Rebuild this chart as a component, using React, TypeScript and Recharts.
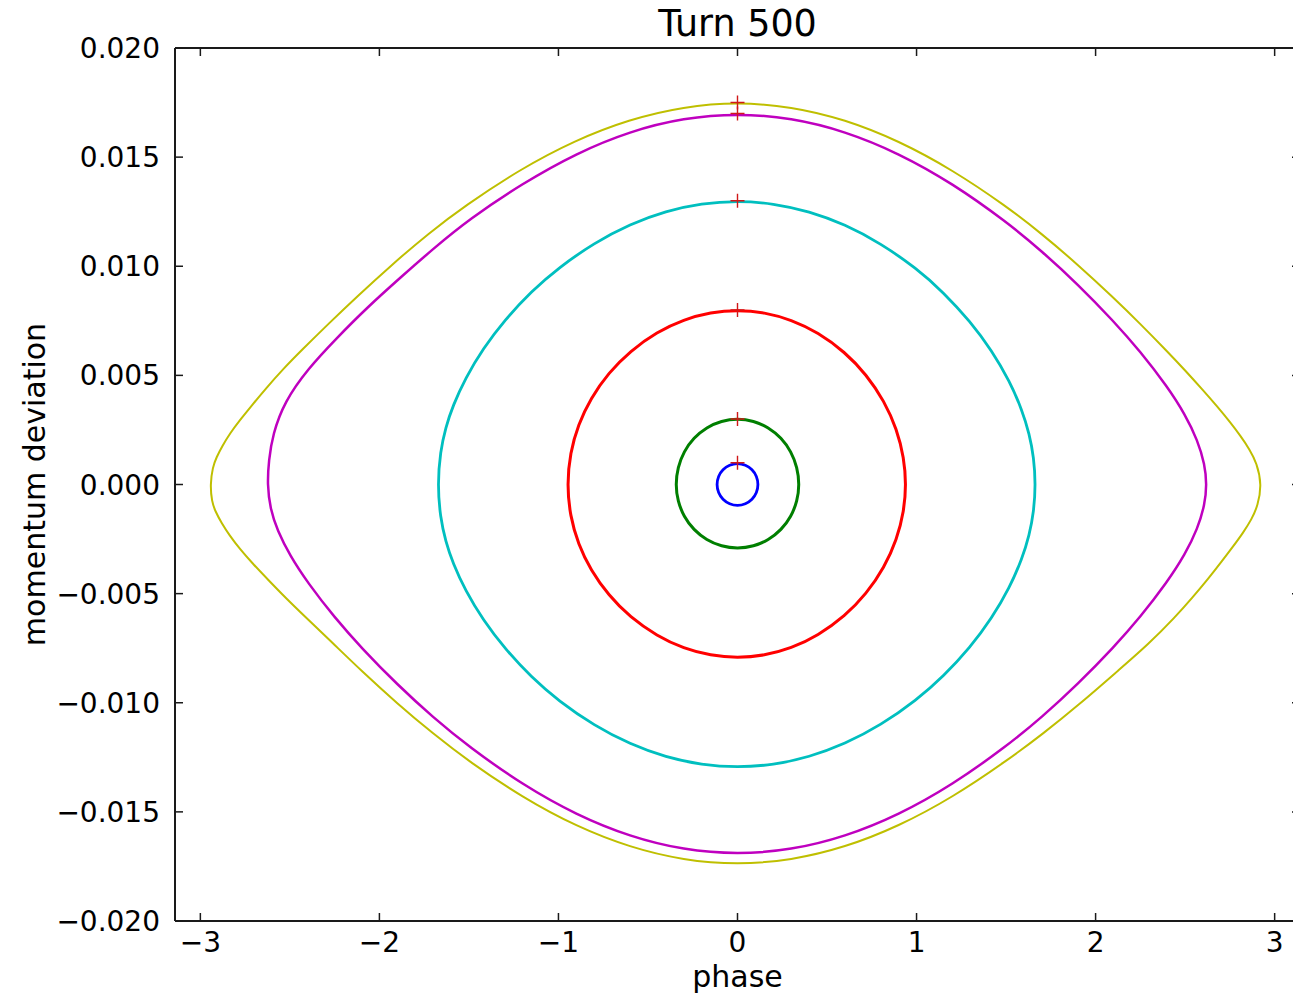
import React from 'react';
import { ComposedChart, Line, XAxis, YAxis } from 'recharts';

const titleText = 'Turn 500';
const xLabelText = 'phase';
const yLabelText = 'momentum deviation';

const xTicks = [-3, -2, -1, 0, 1, 2, 3];
const yTicks = [-0.02, -0.015, -0.01, -0.005, 0, 0.005, 0.01, 0.015, 0.02];

// Orbits (phase, momentum deviation), going round each loop
const bluePhase = [0.117, 0.108, 0.083, 0.045, 0, -0.045, -0.083, -0.108, -0.117, -0.108, -0.083, -0.045, 0, 0.045, 0.083, 0.108];
const blueDp = [0, 0.00038, 0.00069, 0.0009, 0.00098, 0.0009, 0.00069, 0.00038, 0, -0.00038, -0.00069, -0.0009, -0.00098, -0.0009, -0.00069, -0.00038];

const greenPhase = [0.346, 0.334, 0.3, 0.245, 0.173, 0.09, 0, -0.09, -0.173, -0.245, -0.3, -0.334, -0.346, -0.334, -0.3, -0.245, -0.173, -0.09, 0, 0.09, 0.173, 0.245, 0.3, 0.334];
const greenDp = [0, 0.00078, 0.00151, 0.00214, 0.00262, 0.00292, 0.00302, 0.00292, 0.00262, 0.00214, 0.00151, 0.00078, 0, -0.00076, -0.00147, -0.00208, -0.00255, -0.00284, -0.00294, -0.00284, -0.00255, -0.00208, -0.00147, -0.00076];

const redPhase = [
  -0.952, -0.935, -0.89, -0.82, -0.72, -0.6, -0.45, -0.3, -0.15, 0,
  0.15, 0.3, 0.45, 0.6, 0.72, 0.82, 0.89, 0.93, 0.942,
  0.93, 0.89, 0.82, 0.72, 0.6, 0.45, 0.3, 0.15, 0,
  -0.15, -0.3, -0.45, -0.6, -0.72, -0.82, -0.89, -0.935,
];
const redDp = [
  0, 0.00145, 0.00274, 0.00395, 0.00512, 0.00611, 0.00699, 0.00756, 0.00789, 0.008,
  0.00789, 0.00755, 0.00697, 0.00607, 0.00504, 0.00382, 0.00253, 0.00122, 0,
  -0.00122, -0.00252, -0.0038, -0.00501, -0.00603, -0.00692, -0.00751, -0.00784, -0.00795,
  -0.00784, -0.00752, -0.00694, -0.00608, -0.00508, -0.00392, -0.00273, -0.00144,
];

const cyanPhase = [
  -1.675, -1.66, -1.63, -1.59, -1.52, -1.42, -1.3, -1.15, -1.0, -0.8, -0.6, -0.4, -0.2, 0,
  0.2, 0.4, 0.6, 0.8, 1.0, 1.15, 1.3, 1.42, 1.52, 1.59, 1.63, 1.655, 1.665,
  1.655, 1.63, 1.59, 1.52, 1.42, 1.3, 1.15, 1.0, 0.8, 0.6, 0.4, 0.2, 0,
  -0.2, -0.4, -0.6, -0.8, -1.0, -1.15, -1.3, -1.42, -1.52, -1.59, -1.63, -1.66,
];
const cyanDp = [
  0, 0.00151, 0.00262, 0.0036, 0.00487, 0.00624, 0.00754, 0.00886, 0.00993, 0.01107, 0.01193, 0.01253, 0.01288, 0.013,
  0.01288, 0.01252, 0.01192, 0.01105, 0.0099, 0.00881, 0.00747, 0.00614, 0.00473, 0.0034, 0.00232, 0.00124, 0,
  -0.00124, -0.00232, -0.00339, -0.00472, -0.00613, -0.00746, -0.00879, -0.00988, -0.01103, -0.01189, -0.01249, -0.01285, -0.01297,
  -0.01285, -0.0125, -0.0119, -0.01105, -0.00991, -0.00884, -0.00752, -0.00622, -0.00486, -0.00359, -0.00261, -0.00151,
];

const magentaPhase = [
  -2.626, -2.618, -2.596, -2.53, -2.4, -2.24, -2.07, -1.88, -1.7, -1.5, -1.2, -0.9, -0.6, -0.3, 0,
  0.3, 0.6, 0.9, 1.2, 1.5, 1.7, 1.9, 2.1, 2.25, 2.4, 2.5, 2.57, 2.61, 2.621,
  2.61, 2.57, 2.5, 2.4, 2.25, 2.1, 1.9, 1.7, 1.5, 1.2, 0.9, 0.6, 0.3, 0,
  -0.3, -0.6, -0.9, -1.2, -1.5, -1.7, -1.9, -2.1, -2.25, -2.4, -2.5, -2.57, -2.61,
];
const magentaDp = [
  0, 0.0011, 0.0023, 0.0038, 0.0053, 0.0067, 0.0081, 0.0095, 0.0108, 0.01215, 0.0138, 0.01518, 0.01619, 0.0168, 0.017,
  0.0168, 0.01619, 0.01518, 0.0138, 0.01205, 0.01069, 0.00918, 0.00749, 0.00609, 0.00449, 0.00321, 0.00202, 0.00092, 0,
  -0.00092, -0.00202, -0.0032, -0.00447, -0.00607, -0.00747, -0.00915, -0.01066, -0.01201, -0.01376, -0.01514, -0.01614, -0.01675, -0.01695,
  -0.01675, -0.01614, -0.01514, -0.01376, -0.01202, -0.01067, -0.00917, -0.00749, -0.0061, -0.00451, -0.00325, -0.00211, -0.00111,
];

const yellowPhase = [
  -2.945, -2.931, -2.911, -2.877, -2.835, -2.778, -2.711, -2.636, -2.539, -2.436, -2.281, -2.128, -1.928, -1.728, -1.522, -1.217, -0.911, -0.606, -0.3, 0,
  0.3, 0.6, 0.9, 1.2, 1.5, 1.7, 1.9, 2.1, 2.25, 2.4, 2.5, 2.6, 2.68, 2.75, 2.81, 2.86, 2.9, 2.928,
  2.906, 2.871, 2.824, 2.767, 2.702, 2.631, 2.539, 2.445, 2.295, 2.128, 1.917, 1.708, 1.5, 1.2, 0.9, 0.6, 0.3, 0,
  -0.3, -0.6, -0.9, -1.2, -1.5, -1.7, -1.9, -2.1, -2.25, -2.408, -2.517, -2.622, -2.708, -2.781, -2.838, -2.882, -2.917, -2.936,
];
const yellowDp = [
  0, 0.0008, 0.00123, 0.00177, 0.00234, 0.00296, 0.00364, 0.00438, 0.00528, 0.00614, 0.00739, 0.00859, 0.01009, 0.01149, 0.01277, 0.01443, 0.01576, 0.01673, 0.01732, 0.01752,
  0.01732, 0.01673, 0.01575, 0.01442, 0.01276, 0.01148, 0.01008, 0.00856, 0.00736, 0.0061, 0.00523, 0.00432, 0.00357, 0.00287, 0.00222, 0.00161, 0.00099, 0,
  -0.00098, -0.0016, -0.00221, -0.00285, -0.00355, -0.0043, -0.0052, -0.00607, -0.00732, -0.00851, -0.01002, -0.01141, -0.01268, -0.01434, -0.01566, -0.01663, -0.01722, -0.01742,
  -0.01722, -0.01663, -0.01567, -0.01434, -0.01269, -0.01142, -0.01004, -0.00854, -0.00735, -0.00611, -0.00525, -0.00436, -0.00362, -0.00294, -0.00232, -0.00176, -0.00122, -0.00079,
];

// Starting points (red plus markers)
const startPhase = [0, 0, 0, 0, 0, 0];
const startDp = [0.0175, 0.017, 0.013, 0.008, 0.003, 0.001];

const toPoints = (ph: number[], dp: number[]) => ph.map((x, i) => ({ x, y: dp[i] }));

const orbits = [
  { name: 'blue', data: toPoints(bluePhase, blueDp), color: '#0000ff', width: 2.8 },
  { name: 'green', data: toPoints(greenPhase, greenDp), color: '#007f00', width: 3 },
  { name: 'red', data: toPoints(redPhase, redDp), color: '#ff0000', width: 3 },
  { name: 'cyan', data: toPoints(cyanPhase, cyanDp), color: '#00bfbf', width: 2.8 },
  { name: 'magenta', data: toPoints(magentaPhase, magentaDp), color: '#bf00bf', width: 2.5 },
  { name: 'yellow', data: toPoints(yellowPhase, yellowDp), color: '#bfbf00', width: 2 },
];
const starts = toPoints(startPhase, startDp);

const FONT = 'DejaVu Sans';
const AXIS_COLOR = '#1a1a1a';
const TICK_LEN = 8;

const fmt = (v: number, digits: number) => {
  const s = Math.abs(v) < 1e-12 ? (0).toFixed(digits) : v.toFixed(digits);
  return s.replace('-', '\u2212');
};

// bottom axis: tickSize 0, tickMargin 31 -> y is the label baseline, axis line is 31px above
const BottomTick = (props: any) => {
  const { x, y, payload } = props;
  const axisY = y - 31;
  return (
    <g>
      <line x1={x} y1={axisY} x2={x} y2={axisY - TICK_LEN} stroke={AXIS_COLOR} strokeWidth={1.5} />
      <text x={x} y={y} textAnchor="middle" fontFamily={FONT} fontSize={28} fill="#000">
        {fmt(payload.value, 0)}
      </text>
    </g>
  );
};

const TopTick = (props: any) => {
  const { x, y } = props;
  return <line x1={x} y1={y} x2={x} y2={y + TICK_LEN} stroke={AXIS_COLOR} strokeWidth={1.5} />;
};

// left axis: tickSize 0, tickMargin 15 -> x is the label's right end, axis line is 15px right
const LeftTick = (props: any) => {
  const { x, y, payload } = props;
  const axisX = x + 15;
  return (
    <g>
      <line x1={axisX} y1={y} x2={axisX + TICK_LEN} y2={y} stroke={AXIS_COLOR} strokeWidth={1.5} />
      <text x={x} y={y} dy={10} textAnchor="end" fontFamily={FONT} fontSize={28} fill="#000">
        {fmt(payload.value, 3)}
      </text>
    </g>
  );
};

const RightTick = (props: any) => {
  const { x, y } = props;
  return <line x1={x} y1={y} x2={x - TICK_LEN} y2={y} stroke={AXIS_COLOR} strokeWidth={1.5} />;
};

const PlusDot = (props: any) => {
  const { cx, cy, index } = props;
  if (cx == null || cy == null) return <g key={`p${index}`} />;
  return (
    <path
      key={`p${index}`}
      d={`M${cx - 7},${cy}H${cx + 7}M${cx},${cy - 7}V${cy + 7}`}
      stroke="#d01818"
      strokeWidth={1.4}
      fill="none"
    />
  );
};

export default function App() {
  return (
    <div
      style={{
        position: 'absolute',
        left: 0,
        top: 0,
        width: 1293,
        height: 1000,
        overflow: 'hidden',
        background: '#fff',
      }}
    >
      <ComposedChart width={1310} height={1000} margin={{ top: 47, right: 9, bottom: 0, left: 0 }}>
        <XAxis
          dataKey="x"
          type="number"
          domain={[-Math.PI, Math.PI]}
          allowDataOverflow
          ticks={xTicks}
          interval={0}
          height={79}
          tickSize={0}
          tickMargin={31}
          axisLine={{ stroke: AXIS_COLOR, strokeWidth: 2 }}
          tickLine={false}
          tick={<BottomTick />}
          label={(p: any) => {
            const vb = p.viewBox || { x: 175, y: 921, width: 1125, height: 79 };
            return (
              <text x={vb.x + vb.width / 2} y={vb.y + 66} textAnchor="middle" fontFamily={FONT} fontSize={30} fill="#000">
                {xLabelText}
              </text>
            );
          }}
        />
        <XAxis
          xAxisId="top"
          orientation="top"
          dataKey="x"
          type="number"
          domain={[-Math.PI, Math.PI]}
          allowDataOverflow
          ticks={xTicks}
          interval={0}
          height={1}
          tickSize={0}
          tickMargin={0}
          axisLine={{ stroke: AXIS_COLOR, strokeWidth: 2 }}
          tickLine={false}
          tick={<TopTick />}
          label={(p: any) => {
            const vb = p.viewBox || { x: 175, y: 47, width: 1125, height: 1 };
            return (
              <text x={vb.x + vb.width / 2} y={36} textAnchor="middle" fontFamily={FONT} fontSize={36.5} fill="#000">
                {titleText}
              </text>
            );
          }}
        />
        <YAxis
          dataKey="y"
          type="number"
          domain={[-0.02, 0.02]}
          allowDataOverflow
          ticks={yTicks}
          interval={0}
          width={175}
          tickSize={0}
          tickMargin={15}
          axisLine={{ stroke: AXIS_COLOR, strokeWidth: 2 }}
          tickLine={false}
          tick={<LeftTick />}
          label={(p: any) => {
            const vb = p.viewBox || { x: 0, y: 48, width: 175, height: 873 };
            const cx = vb.x + 45;
            const cy = vb.y + vb.height / 2;
            return (
              <text
                x={cx}
                y={cy}
                transform={`rotate(-90, ${cx}, ${cy})`}
                textAnchor="middle"
                fontFamily={FONT}
                fontSize={30}
                fill="#000"
              >
                {yLabelText}
              </text>
            );
          }}
        />
        <YAxis
          yAxisId="right"
          orientation="right"
          type="number"
          domain={[-0.02, 0.02]}
          allowDataOverflow
          ticks={yTicks}
          interval={0}
          width={1}
          tickSize={0}
          tickMargin={0}
          axisLine={{ stroke: AXIS_COLOR, strokeWidth: 2 }}
          tickLine={false}
          tick={<RightTick />}
        />
        {orbits.map((o) => (
          <Line
            key={o.name}
            data={o.data}
            dataKey="y"
            type="basisClosed"
            stroke={o.color}
            strokeWidth={o.width}
            dot={false}
            activeDot={false}
            isAnimationActive={false}
            legendType="none"
          />
        ))}
        <Line
          data={starts}
          dataKey="y"
          type="linear"
          stroke="none"
          dot={PlusDot}
          activeDot={false}
          isAnimationActive={false}
          legendType="none"
        />
      </ComposedChart>
    </div>
  );
}
